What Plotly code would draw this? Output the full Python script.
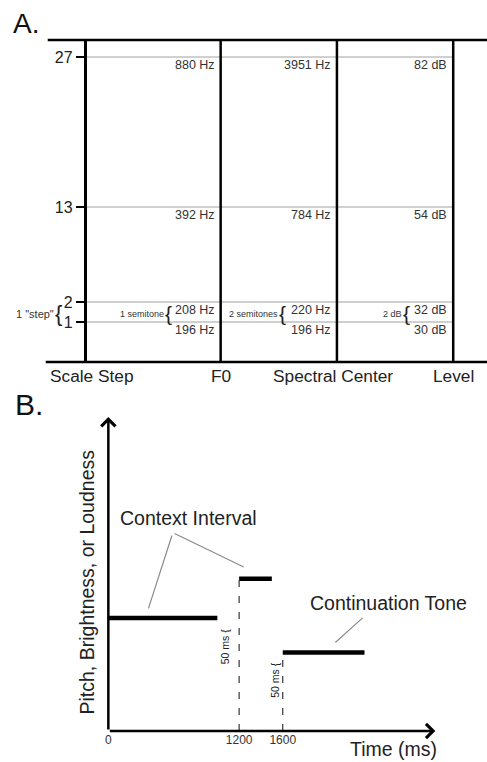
import plotly.graph_objects as go

# ---------------- data ----------------
# Panel A: scale steps and their physical values
scale_steps = [1, 2, 13, 27]
f0_labels = ["196 Hz", "208 Hz", "392 Hz", "880 Hz"]
spectral_labels = ["196 Hz", "220 Hz", "784 Hz", "3951 Hz"]
level_labels = ["30 dB", "32 dB", "54 dB", "82 dB"]
dimensions = ["Scale Step", "F0", "Spectral Center", "Level"]
interval_notes = ['1 "step"', "1 semitone", "2 semitones", "2 dB"]

# Panel B: tone sequence (time in ms, level in arbitrary units)
tone_names = ["Context tone 1", "Context tone 2", "Continuation tone"]
tone_start_ms = [0, 1200, 1600]
tone_end_ms = [1000, 1500, 2350]
tone_level = [3.6, 4.85, 2.5]
time_ticks = [0, 1200, 1600]
gap_label = "50 ms"

# ---------------- layout constants ----------------
W, H = 487, 762
FONT = "Liberation Sans, Arial, Helvetica, sans-serif"
COL_X = [83, 219, 336, 453]          # schematic column positions (panel A x units)
A_TOP, A_BREAK, A_BOT = 40, 285, 362  # panel A frame: upper / lower (expanded) segments
LOWER_RANGE = [-1.0, 2.85]           # expanded segment for the first scale steps
UPPER_RANGE = [5.72, 28.59]
B_TOP, B_BOT = 417, 731               # panel B axes (px)
B_LEFT, B_RIGHT = 106, 435
T_MAX = 3000
L_MAX = 10


def py(px):
    return 1 - px / H


def yax(s):
    return "y3" if s <= LOWER_RANGE[1] else "y"


fig = go.Figure()

# ----- Panel A -----
shapes = []
annotations = []

# gray rows for each scale step
for s in scale_steps:
    shapes.append(dict(type="line", xref="x", yref=yax(s), x0=COL_X[0], x1=COL_X[3],
                       y0=s, y1=s, line=dict(color="#a0a0a0", width=1), layer="below"))
# frame lines
shapes.append(dict(type="line", xref="x", yref="y domain", x0=45, x1=487, y0=1, y1=1,
                   line=dict(color="black", width=2.5)))
shapes.append(dict(type="line", xref="x", yref="y3 domain", x0=43, x1=487, y0=0, y1=0,
                   line=dict(color="black", width=2.5)))
for cx in COL_X[1:]:
    shapes.append(dict(type="line", xref="x", yref="paper", x0=cx, x1=cx,
                       y0=py(A_BOT), y1=py(A_TOP), line=dict(color="black", width=2.5)))

# value labels below each row
columns = [f0_labels, spectral_labels, level_labels]
for ci, labels in enumerate(columns):
    cx = COL_X[ci + 1]
    for s, lab in zip(scale_steps, labels):
        annotations.append(dict(x=cx, y=s, xref="x", yref=yax(s), text=lab, showarrow=False,
                                xanchor="right", yanchor="top", xshift=-4, yshift=1,
                                font=dict(family=FONT, size=12.5, color="#333")))

# interval braces
brace_offsets = [-21, -47, -49, -41]   # px left of each column line
ymid = (scale_steps[0] + scale_steps[1]) / 2
for ci, (note, off) in enumerate(zip(interval_notes, brace_offsets)):
    cx = COL_X[ci]
    annotations.append(dict(x=cx, y=ymid, xref="x", yref=yax(ymid), text="{", showarrow=False,
                            xanchor="right", yanchor="middle", xshift=off, yshift=-1,
                            font=dict(family=FONT, size=22 if ci == 0 else 21, color="#222")))
    annotations.append(dict(x=cx, y=ymid, xref="x", yref=yax(ymid), text=note, showarrow=False,
                            xanchor="right", yanchor="middle", xshift=off - 8, yshift=-2,
                            font=dict(family=FONT, size=11 if ci == 0 else 9, color="#333")))

# dimension names
for ci, name in enumerate(dimensions):
    if ci == 0:
        annotations.append(dict(x=45, y=0, xref="x", yref="y3 domain", text=name, showarrow=False,
                                xanchor="left", yanchor="top", yshift=-2,
                                font=dict(family=FONT, size=17.3, color="#222")))
    else:
        annotations.append(dict(x=COL_X[ci], y=0, xref="x", yref="y3 domain", text=name,
                                showarrow=False, xanchor="center", yanchor="top", yshift=-2,
                                xshift=-4 if ci == 2 else 0,
                                font=dict(family=FONT, size=17.3, color="#222")))

annotations.append(dict(x=8 / W, y=py(6), xref="paper", yref="paper", text="A.",
                        showarrow=False, xanchor="left", yanchor="top",
                        font=dict(family=FONT, size=28, color="#111")))

# ----- Panel B -----
tx, ty = [], []
for a, b, lv in zip(tone_start_ms, tone_end_ms, tone_level):
    tx += [a, b, None]
    ty += [lv, lv, None]
fig.add_trace(go.Scatter(x=tx, y=ty, xaxis="x2", yaxis="y2", mode="lines",
                         line=dict(color="black", width=4.5), hoverinfo="skip",
                         showlegend=False))
dx, dy = [], []
for a, lv in zip(tone_start_ms[1:], tone_level[1:]):
    dx += [a, a, None]
    dy += [0, lv, None]
fig.add_trace(go.Scatter(x=dx, y=dy, xaxis="x2", yaxis="y2", mode="lines",
                         line=dict(color="#333", width=1.2, dash="7px,9px"), hoverinfo="skip",
                         showlegend=False))

# axes arrows
annotations.append(dict(x=T_MAX, y=0, ax=0, ay=0, xref="x2", yref="y2", axref="x2", ayref="y2",
                        showarrow=True, arrowhead=4, arrowsize=1.1, arrowwidth=2.5,
                        arrowcolor="black", text=""))
annotations.append(dict(x=0, y=L_MAX, ax=0, ay=0, xref="x2", yref="y2", axref="x2", ayref="y2",
                        showarrow=True, arrowhead=4, arrowsize=1.1, arrowwidth=2.5,
                        arrowcolor="black", text=""))

# gap labels (rotated)
for a, xs, yv in zip(tone_start_ms[1:], [-14, -8], [2.7, 1.62]):
    annotations.append(dict(x=a, y=yv, xref="x2", yref="y2", text=gap_label + " {",
                            showarrow=False, textangle=-90, xshift=xs,
                            xanchor="center", yanchor="middle",
                            font=dict(family=FONT, size=10.5, color="#222")))

# callouts
annotations.append(dict(x=tone_start_ms[0] + 340, y=tone_level[0], xref="x2", yref="y2",
                        ax=27, ay=-84, showarrow=True, arrowhead=0, arrowwidth=1.2,
                        arrowcolor="#8a8a8a", standoff=10, text=""))
annotations.append(dict(x=tone_end_ms[1] - 35, y=tone_level[1], xref="x2", yref="y2",
                        ax=-95, ay=-46, showarrow=True, arrowhead=0, arrowwidth=1.2,
                        arrowcolor="#8a8a8a", standoff=27, text=""))
annotations.append(dict(x=tone_start_ms[2] + 380, y=tone_level[2], xref="x2", yref="y2",
                        ax=40, ay=-36, showarrow=True, arrowhead=0, arrowwidth=1.2,
                        arrowcolor="#8a8a8a", standoff=15, text=""))
annotations.append(dict(x=187 / W, y=py(518), xref="paper", yref="paper",
                        text="Context Interval", showarrow=False,
                        xanchor="center", yanchor="middle",
                        font=dict(family=FONT, size=19.5, color="#222")))
annotations.append(dict(x=388 / W, y=py(603), xref="paper", yref="paper",
                        text="Continuation Tone", showarrow=False,
                        xanchor="center", yanchor="middle",
                        font=dict(family=FONT, size=19.5, color="#222")))

annotations.append(dict(x=85 / W, y=py(582), xref="paper", yref="paper",
                        text="Pitch, Brightness, or Loudness", showarrow=False, textangle=-90,
                        xanchor="center", yanchor="middle",
                        font=dict(family=FONT, size=19.5, color="#222")))
annotations.append(dict(x=393 / W, y=py(749), xref="paper", yref="paper",
                        text="Time (ms)", showarrow=False,
                        xanchor="center", yanchor="middle",
                        font=dict(family=FONT, size=19.5, color="#222")))
annotations.append(dict(x=10 / W, y=py(386), xref="paper", yref="paper", text="B.",
                        showarrow=False, xanchor="left", yanchor="top",
                        font=dict(family=FONT, size=30, color="#111")))

yaxis_common = dict(anchor="free", position=COL_X[0] / W, showgrid=False, zeroline=False,
                    ticks="outside", ticklen=9, tickwidth=2, tickcolor="black",
                    showline=True, linewidth=2.5, linecolor="black",
                    tickfont=dict(family=FONT, size=16, color="#222"))
upper_steps = [s for s in scale_steps if yax(s) == "y"]
lower_steps = [s for s in scale_steps if yax(s) == "y3"]

fig.update_layout(
    width=W, height=H, margin=dict(l=0, r=0, t=0, b=0),
    paper_bgcolor="white", plot_bgcolor="white", showlegend=False,
    font=dict(family=FONT),
    xaxis=dict(domain=[0, 1], range=[0, W], visible=False, anchor="y", fixedrange=True),
    yaxis=dict(domain=[py(A_BREAK), py(A_TOP)], range=UPPER_RANGE,
               tickvals=upper_steps, ticktext=[str(s) for s in upper_steps], **yaxis_common),
    yaxis3=dict(domain=[py(A_BOT), py(A_BREAK)], range=LOWER_RANGE,
                tickvals=lower_steps, ticktext=[str(s) for s in lower_steps], **yaxis_common),
    xaxis2=dict(domain=[B_LEFT / W, B_RIGHT / W], range=[0, T_MAX], anchor="y2",
                showgrid=False, zeroline=False, showline=False, ticks="",
                tickvals=time_ticks, ticktext=[str(t) for t in time_ticks],
                tickfont=dict(family=FONT, size=12, color="#333")),
    yaxis2=dict(domain=[py(B_BOT), py(B_TOP)], range=[0, L_MAX], anchor="x2",
                visible=False),
    shapes=shapes, annotations=annotations,
)

fig.write_html("out.html")
